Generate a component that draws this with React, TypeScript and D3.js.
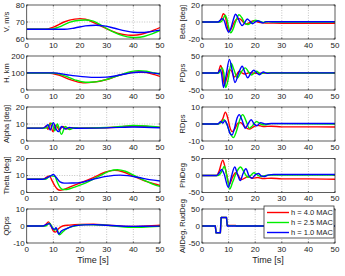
import React from "react";
import * as d3 from "d3";

type Pt = [number, number];

// ---------- DATA ----------
const timeTicks = [0, 10, 20, 30, 40, 50];
const legendLabels = ["h = 4.0 MAC", "h = 2.5 MAC", "h = 1.0 MAC"];
const seriesColors = ["#ff0000", "#00ee00", "#0000ff"];

const vRed: Pt[] = [[0,65.7],[7,65.7],[10,67],[14,70],[18,71.7],[20,72],[22,71.6],[26,69],[30,66],[34,63.5],[38,62.3],[40,62.2],[43,62.8],[46,64.2],[50,66.7]];
const vGreen: Pt[] = [[0,65.7],[9,65.7],[12,67],[16,69.8],[20,71],[22,71.2],[25,70.5],[28,68],[32,64.5],[36,62],[39,61],[41,60.9],[44,61.5],[47,63],[50,65]];
const vBlue: Pt[] = [[0,65.7],[14,65.7],[18,66.5],[22,67.7],[26,68.1],[29,67.7],[33,66.3],[37,64.8],[40,64],[43,63.8],[46,64.2],[50,65.2]];

const hRed: Pt[] = [[0,100],[8,100],[12,88],[16,63],[20,45],[22,42],[25,46],[30,62],[35,88],[39,102],[42,106],[45,102],[48,90],[50,80]];
const hGreen: Pt[] = [[0,100],[10,100],[14,85],[18,60],[22,46],[25,47],[30,62],[35,88],[39,108],[42,114],[45,110],[48,100],[50,94]];
const hBlue: Pt[] = [[0,101],[10,101],[15,90],[20,80],[25,74],[30,76],[35,88],[40,102],[43,106],[46,102],[50,95]];

const alphaRed: Pt[] = [[0,7.6],[6.5,7.6],[7.3,8.8],[8,6.8],[8.8,10.6],[9.8,5.5],[11,9.5],[12.2,6.5],[13.5,8.5],[15,7.2],[17,7.8],[20,7.6],[30,7.8],[35,8.3],[40,8.8],[45,8.6],[50,8]];
const alphaGreen: Pt[] = [[0,7.6],[7.5,7.6],[8.5,9.5],[9.5,10.5],[10.5,6],[11.5,10],[13,3.9],[14.5,8.5],[16,6.8],[18,7.8],[20,7.6],[30,7.9],[35,8.5],[40,9.1],[45,8.8],[50,8.1]];
const alphaBlue: Pt[] = [[0,7.6],[6,7.6],[7,8.3],[8,9.6],[8.8,6.5],[10,10.8],[11,7],[12,5.5],[13,8.5],[14.5,7],[16,8],[18,7.5],[25,7.6],[35,8],[40,8.2],[50,7.8]];

const thetaRed: Pt[] = [[0,7.8],[6,7.8],[7.5,9],[8.5,9.8],[9.5,7],[10.5,4],[11.5,2],[12.5,1.3],[14,1.8],[17,3.8],[20,5.6],[25,8.8],[30,12.2],[33,13],[36,12.2],[40,9.6],[44,7],[48,5],[50,4.2]];
const thetaGreen: Pt[] = [[0,7.8],[7,7.8],[9,9.8],[10.5,9.5],[11.5,6],[12.5,3],[13.5,1.8],[15,1.8],[18,3.2],[22,5.5],[27,9.5],[31,12.6],[34,13.4],[37,12.5],[41,9.5],[45,6.5],[48,4.5],[50,3.6]];
const thetaBlue: Pt[] = [[0,7.8],[6,7.8],[8,9],[9,9.8],[10,10.6],[11,9],[12.5,6.2],[14,5.5],[17,5.6],[20,5.8],[25,7.8],[30,9.5],[35,10.2],[38,9.9],[42,8.8],[46,7.6],[50,6.8]];

const qRed: Pt[] = [[0,0],[6.5,0],[7.5,1.5],[8.2,2.4],[9,0.5],[10,-3],[10.8,-3.6],[12,-1.5],[13.5,0],[16,0.5],[20,0.9],[25,1],[30,0.5],[35,0],[40,-0.3],[45,0],[50,0.4]];
const qGreen: Pt[] = [[0,0],[7,0],[8.5,1.6],[9.5,-0.5],[10.5,-2.5],[11.2,-1.5],[12.3,-5.2],[13.5,-3.5],[15,-1.5],[18,0],[22,0.8],[28,0.6],[33,0],[38,-0.8],[42,-0.8],[46,-0.5],[50,-0.2]];
const qBlue: Pt[] = [[0,0],[6,0],[7.5,1],[8.5,1.4],[9.5,-1],[10.3,-2],[11,-1],[12,-4.8],[13,-3],[15,-1.5],[18,0.2],[25,0.8],[30,0.4],[35,0],[40,-0.2],[50,-0.1]];

const betaRed: Pt[] = [[0,0],[6.5,0],[7.3,4],[8,9.8],[8.8,6],[9.5,-5],[10.2,-11],[11,-8],[12,-1],[13,3],[14,4],[15.5,0],[16.5,-2.5],[18,-0.5],[19.5,1.5],[21,0],[23,-1],[25,-1.3],[30,-1.4],[40,-1.4],[50,-1.4]];
const betaGreen: Pt[] = [[0,0],[7,0],[8,4],[8.7,8],[9.4,3],[10,-6],[10.8,-12.8],[11.6,-9],[12.6,0],[13.9,8.5],[15,5],[16,-1],[17.2,-3],[18.5,-1],[20,2],[21.5,1],[23,-0.5],[25,0.5],[27,0],[50,0]];
const betaBlue: Pt[] = [[0,0],[6,0],[6.8,2],[7.5,4],[8.3,2],[9.2,-7],[10,-12],[10.8,-8],[11.8,3],[12.6,9.2],[13.5,5],[14.3,-1],[15.1,-4.3],[16,-1],[17,3.5],[18,1],[19,-2],[20,0],[21,1.5],[22,0],[23,-1],[24,0.5],[26,0.3],[50,0.3]];

const pRed: Pt[] = [[0,0],[6,0],[7,22],[7.7,5],[8.4,-35],[9.3,-15],[10.3,10],[11.2,5],[12,-12],[13,-5],[14,5],[15,0],[16,-3],[18,1],[20,-1],[25,0],[50,0]];
const pGreen: Pt[] = [[0,0],[6.3,0],[7.5,15],[8.2,0],[8.9,-43],[9.8,-20],[11,28],[12,10],[13.3,-15],[14.5,0],[16.3,15],[17.5,3],[18.7,-6],[20.5,5],[22,-2],[24,1],[26,0],[50,0]];
const pBlue: Pt[] = [[0,0],[6,0],[6.8,10],[7.3,0],[8.1,-43],[9,-10],[10.3,40],[11.3,10],[12.4,-28],[13.8,0],[15.1,20],[16.2,0],[17.2,-14],[18.4,0],[19.5,8],[20.6,0],[21.6,-5],[23,3],[24.5,-1],[26,0.5],[50,0.5]];

const rRed: Pt[] = [[0,0],[5.5,0],[7,1],[7.8,3],[8.8,7],[9.6,4],[10.5,-2],[11.3,-4.5],[12.3,-3],[13.5,0.5],[14.5,0.8],[16,-1.5],[17.8,-3],[19.5,-1.5],[21,-0.8],[23,-1.5],[26,-1.3],[30,-1.7],[40,-1.7],[50,-1.8]];
const rGreen: Pt[] = [[0,0],[6,0],[7.3,1],[8.3,2.5],[9.3,0],[10.5,-5],[11.8,-8],[13,-4],[14.2,2.5],[15.3,5.5],[16.5,2],[17.8,-2.5],[19,-1],[20.5,1.5],[22,0],[23.5,-0.5],[26,0.2],[50,0]];
const rBlue: Pt[] = [[0,0],[6,0],[7,1.5],[7.8,0.5],[8.6,2],[9.6,-1],[10.5,-5.5],[11.3,-6.5],[12.3,-2],[13.2,3.5],[14,5.5],[15,2.5],[16.3,-2.5],[17.3,0],[18.5,2.5],[19.6,0],[20.7,-1],[22,0.8],[24,0],[26,0.3],[50,0.3]];

const phiRed: Pt[] = [[0,0],[5.5,0],[6.5,15],[7.8,45],[8.8,20],[10.3,-25],[11.5,-5],[12.6,8],[13.6,0],[14.8,-12],[16,-8],[17.3,-3],[19,-8],[21,-6],[23,-9],[26,-8],[30,-10],[40,-10],[50,-11]];
const phiGreen: Pt[] = [[0,0],[6,0],[7.3,10],[8.4,27],[9.3,0],[10.4,-40],[11.5,-20],[13,10],[14.5,25],[15.8,10],[17.3,-5],[18.3,0],[19.5,8],[20.8,2],[22,-3],[24,0],[26,1],[30,1],[50,1]];
const phiBlue: Pt[] = [[0,0],[5.5,0],[6.5,8],[7.4,18],[8.3,5],[9.9,-35],[11,-5],[12.3,25],[13.3,5],[14.4,-15],[15.4,5],[16.5,20],[17.6,0],[18.8,-8],[20,2],[21.2,6],[22.3,-1],[23.5,-3],[25,2],[27,3],[50,3]];

const ailRed: Pt[] = [[0,0],[5,0],[5.3,-20],[6.9,-20],[7.2,25],[9.2,25],[9.5,1.5],[12.7,1.5],[12.9,0],[50,0]];
const ailGreen: Pt[] = [[0,0],[5,0],[5.3,-20],[6.9,-20],[7.2,25],[9.2,25],[9.5,1],[12.7,1],[12.9,0],[50,0]];
const ailBlue: Pt[] = [[0,0],[5,0],[5.3,-20],[6.9,-20],[7.2,25],[9.2,25],[9.5,0],[50,0]];

// ---------- PANELS ----------
type Panel = {
  label: string;
  domain: [number, number];
  ticks: number[];
  series: Pt[][];
  step?: boolean;
};

const leftPanels: Panel[] = [
  { label: "V, m/s", domain: [60, 80], ticks: [60, 70, 80], series: [vRed, vGreen, vBlue] },
  { label: "H, km", domain: [0, 200], ticks: [0, 100, 200], series: [hRed, hGreen, hBlue] },
  { label: "Alpha [deg]", domain: [0, 20], ticks: [0, 10, 20], series: [alphaRed, alphaGreen, alphaBlue] },
  { label: "Theta [deg]", domain: [0, 20], ticks: [0, 10, 20], series: [thetaRed, thetaGreen, thetaBlue] },
  { label: "QDps", domain: [-10, 10], ticks: [-10, 0, 10], series: [qRed, qGreen, qBlue] },
];
const rightPanels: Panel[] = [
  { label: "Beta [deg]", domain: [-20, 20], ticks: [-20, 0, 20], series: [betaRed, betaGreen, betaBlue] },
  { label: "PDps", domain: [-50, 50], ticks: [-50, 0, 50], series: [pRed, pGreen, pBlue] },
  { label: "RDps", domain: [-10, 10], ticks: [-10, 0, 10], series: [rRed, rGreen, rBlue] },
  { label: "PhiDeg", domain: [-50, 50], ticks: [-50, 0, 50], series: [phiRed, phiGreen, phiBlue] },
  { label: "AilDeg, RudDeg", domain: [-50, 50], ticks: [-50, 0, 50], series: [ailRed, ailGreen, ailBlue], step: true },
];

const W = 345, H = 276;
const panelTops = [5, 56, 107, 158.5, 209];
const panelH = 34;
const FONT = "Arial, 'Liberation Sans', sans-serif";

function PanelView({ p, x0, x1, top, labelX, showLegend }: { p: Panel; x0: number; x1: number; top: number; labelX: number; showLegend?: boolean }) {
  const x = d3.scaleLinear().domain([0, 50]).range([x0, x1]);
  const y = d3.scaleLinear().domain(p.domain).range([top + panelH, top]);
  const line = d3.line<Pt>().x(d => x(d[0])).y(d => y(d[1])).curve(p.step ? d3.curveLinear : d3.curveMonotoneX);
  const clipId = `clip-${p.label.replace(/[^a-zA-Z]/g, "")}`;
  const axisColor = "#333";
  return (
    <g>
      <defs>
        <clipPath id={clipId}>
          <rect x={x0} y={top} width={x1 - x0} height={panelH} />
        </clipPath>
      </defs>
      <rect x={x0} y={top} width={x1 - x0} height={panelH} fill="#fff" />
      {timeTicks.slice(1, -1).map(t => (
        <line key={"gx" + t} x1={x(t)} x2={x(t)} y1={top} y2={top + panelH} stroke="#aaa" strokeWidth={0.7} strokeDasharray="1,1.5" />
      ))}
      {p.ticks.slice(1, -1).map(v => (
        <line key={"gy" + v} x1={x0} x2={x1} y1={y(v)} y2={y(v)} stroke="#aaa" strokeWidth={0.7} strokeDasharray="1,1.5" />
      ))}
      <g clipPath={`url(#${clipId})`}>
        {p.series.map((s, i) => (
          <path key={i} d={line(s) || ""} fill="none" stroke={seriesColors[i]} strokeWidth={1.4} strokeLinejoin="round" />
        ))}
      </g>
      <rect x={x0} y={top} width={x1 - x0} height={panelH} fill="none" stroke={axisColor} strokeWidth={0.8} />
      {timeTicks.map(t => (
        <g key={"tx" + t}>
          <line x1={x(t)} x2={x(t)} y1={top + panelH} y2={top + panelH - 1.5} stroke={axisColor} strokeWidth={0.7} />
          <line x1={x(t)} x2={x(t)} y1={top} y2={top + 1.5} stroke={axisColor} strokeWidth={0.7} />
          <text x={x(t)} y={top + panelH + 8.5} fontSize={8} textAnchor="middle" fill="#222" fontFamily={FONT}>{t}</text>
        </g>
      ))}
      {p.ticks.map(v => (
        <g key={"ty" + v}>
          <line x1={x0} x2={x0 + 1.5} y1={y(v)} y2={y(v)} stroke={axisColor} strokeWidth={0.7} />
          <line x1={x1} x2={x1 - 1.5} y1={y(v)} y2={y(v)} stroke={axisColor} strokeWidth={0.7} />
          <text x={x0 - 2} y={y(v) + 2.8} fontSize={8} textAnchor="end" fill="#222" fontFamily={FONT}>{v}</text>
        </g>
      ))}
      <text transform={`translate(${labelX},${top + panelH / 2}) rotate(-90)`} fontSize={7.5} textAnchor="middle" fill="#222" fontFamily={FONT}>{p.label}</text>
      {showLegend && (
        <g>
          <rect x={264} y={206} width={70} height={32} fill="#fff" stroke={axisColor} strokeWidth={0.8} />
          {legendLabels.map((lab, i) => {
            const ly = 212.5 + i * 10;
            return (
              <g key={lab}>
                <line x1={267} x2={289} y1={ly} y2={ly} stroke={seriesColors[i]} strokeWidth={1.4} />
                <text x={291} y={ly + 2.7} fontSize={7.5} fill="#222" fontFamily={FONT}>{lab}</text>
              </g>
            );
          })}
        </g>
      )}
    </g>
  );
}

export default function App() {
  return (
    <div style={{ position: "absolute", left: 0, top: 0 }}>
      <svg width={W} height={H} style={{ display: "block", background: "#fff" }}>
        <rect width={W} height={H} fill="#fff" />
        {leftPanels.map((p, i) => (
          <PanelView key={p.label} p={p} x0={26.7} x1={160} top={panelTops[i]} labelX={9} />
        ))}
        {rightPanels.map((p, i) => (
          <PanelView key={p.label} p={p} x0={202} x1={335} top={panelTops[i]} labelX={185} showLegend={i === 4} />
        ))}
        <text x={93} y={263} fontSize={9} textAnchor="middle" fill="#222" fontFamily={FONT}>Time [s]</text>
        <text x={268} y={263} fontSize={9} textAnchor="middle" fill="#222" fontFamily={FONT}>Time [s]</text>
      </svg>
    </div>
  );
}
